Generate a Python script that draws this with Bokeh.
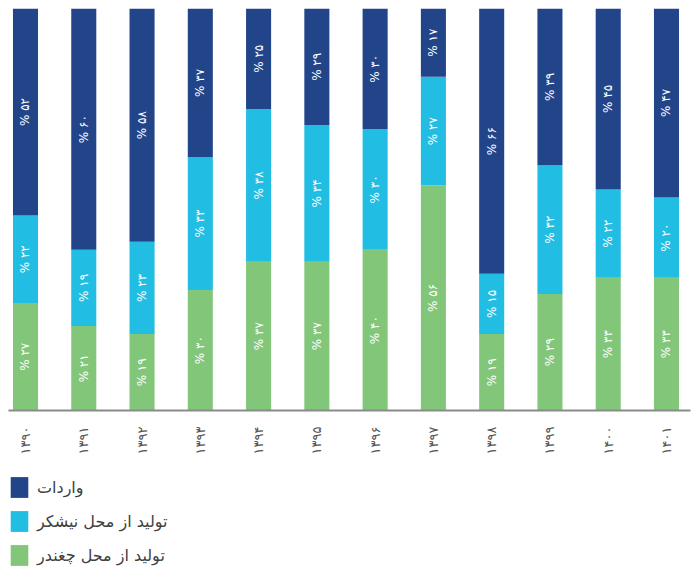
from math import pi
from bokeh.plotting import figure
from bokeh.layouts import column
from bokeh.models import ColumnDataSource, Range1d, FixedTicker, Legend, LegendItem
from bokeh.core.properties import value
from bokeh.embed import file_html
from bokeh.resources import INLINE

years = ["1390", "1391", "1392", "1393", "1394", "1395", "1396", "1397", "1398", "1399", "1400", "1401"]
beet = [27, 21, 19, 30, 37, 37, 40, 56, 19, 29, 33, 33]
cane = [22, 19, 23, 33, 38, 34, 30, 27, 15, 32, 22, 20]
imports = [52, 60, 58, 37, 25, 29, 30, 17, 66, 39, 45, 47]
series_names = ["واردات", "تولید از محل نیشکر", "تولید از محل چغندر"]
colors = {"imports": "#22458A", "cane": "#22BDE2", "beet": "#82C67A"}

FONT = "DejaVu Sans"
FA = str.maketrans("0123456789", "۰۱۲۳۴۵۶۷۸۹")
def fa(s):
    return str(s).translate(FA)

xs = list(range(len(years)))
tot = [b + c + i for b, c, i in zip(beet, cane, imports)]
b_top = [b / t for b, t in zip(beet, tot)]
c_top = [(b + c) / t for b, c, t in zip(beet, cane, tot)]
i_top = [1.0 for _ in tot]
zeros = [0.0 for _ in tot]

src = ColumnDataSource(dict(
    x=xs, zero=zeros, b_top=b_top, c_top=c_top, i_top=i_top,
    b_mid=[t / 2 for t in b_top],
    c_mid=[(a + b) / 2 for a, b in zip(b_top, c_top)],
    i_mid=[(a + b) / 2 for a, b in zip(c_top, i_top)],
    b_lab=["% " + fa(v) for v in beet],
    c_lab=["% " + fa(v) for v in cane],
    i_lab=["% " + fa(v) for v in imports],
))

p = figure(width=698, height=460,
           x_range=Range1d(-0.2917, 11.412), y_range=Range1d(0, 1),
           output_backend="svg", toolbar_location=None, y_axis_location=None,
           min_border_left=8, min_border_right=8, min_border_top=8, min_border_bottom=50)
p.outline_line_color = None
p.grid.visible = False

W = 0.43
p.vbar(x="x", bottom="zero", top="b_top", width=W, source=src,
       fill_color=colors["beet"], line_color=None)
p.vbar(x="x", bottom="b_top", top="c_top", width=W, source=src,
       fill_color=colors["cane"], line_color=None)
p.vbar(x="x", bottom="c_top", top="i_top", width=W, source=src,
       fill_color=colors["imports"], line_color=None)

for ycol, tcol in [("b_mid", "b_lab"), ("c_mid", "c_lab"), ("i_mid", "i_lab")]:
    p.text(x="x", y=ycol, text=tcol, source=src, angle=pi / 2,
           text_align="center", text_baseline="middle", text_color="white",
           text_font=value(FONT), text_font_size="12px")

ax = p.xaxis[0]
ax.ticker = FixedTicker(ticks=xs)
ax.major_label_overrides = {i: fa(y) for i, y in zip(xs, years)}
ax.major_label_orientation = pi / 2
ax.major_label_text_font = FONT
ax.major_label_text_font_size = "13px"
ax.major_label_text_color = "#555555"
ax.major_label_standoff = 10
ax.axis_line_color = "#8a8a8a"
ax.axis_line_width = 2
ax.major_tick_line_color = None
ax.minor_tick_line_color = None

# legend panel (swatch renderers sit outside the visible range)
lg = figure(width=698, height=109, x_range=Range1d(0, 1), y_range=Range1d(0, 1),
            output_backend="svg", toolbar_location=None,
            x_axis_location=None, y_axis_location=None,
            min_border_left=8, min_border_right=8, min_border_top=0, min_border_bottom=0)
lg.outline_line_color = None
lg.grid.visible = False
swatch = ColumnDataSource(dict(l=[5], r=[6], t=[6], b=[5]))
li = lg.quad(left="l", right="r", top="t", bottom="b", source=swatch,
             fill_color=colors["imports"], line_color=None)
lc = lg.quad(left="l", right="r", top="t", bottom="b", source=swatch,
             fill_color=colors["cane"], line_color=None)
lb = lg.quad(left="l", right="r", top="t", bottom="b", source=swatch,
             fill_color=colors["beet"], line_color=None)

legend = Legend(items=[
    LegendItem(label=series_names[0], renderers=[li]),
    LegendItem(label=series_names[1], renderers=[lc]),
    LegendItem(label=series_names[2], renderers=[lb]),
], orientation="vertical", location=(0, 1))
legend.glyph_width = 22
legend.glyph_height = 26
legend.spacing = 8
legend.padding = 1
legend.margin = 0
legend.label_standoff = 7
legend.label_text_font = FONT
legend.label_text_font_size = "16px"
legend.label_text_color = "#404040"
legend.border_line_color = None
legend.background_fill_alpha = 0
lg.add_layout(legend, "center")

layout = column(p, lg, spacing=0)
open("out.html", "w").write(file_html(layout, INLINE))
